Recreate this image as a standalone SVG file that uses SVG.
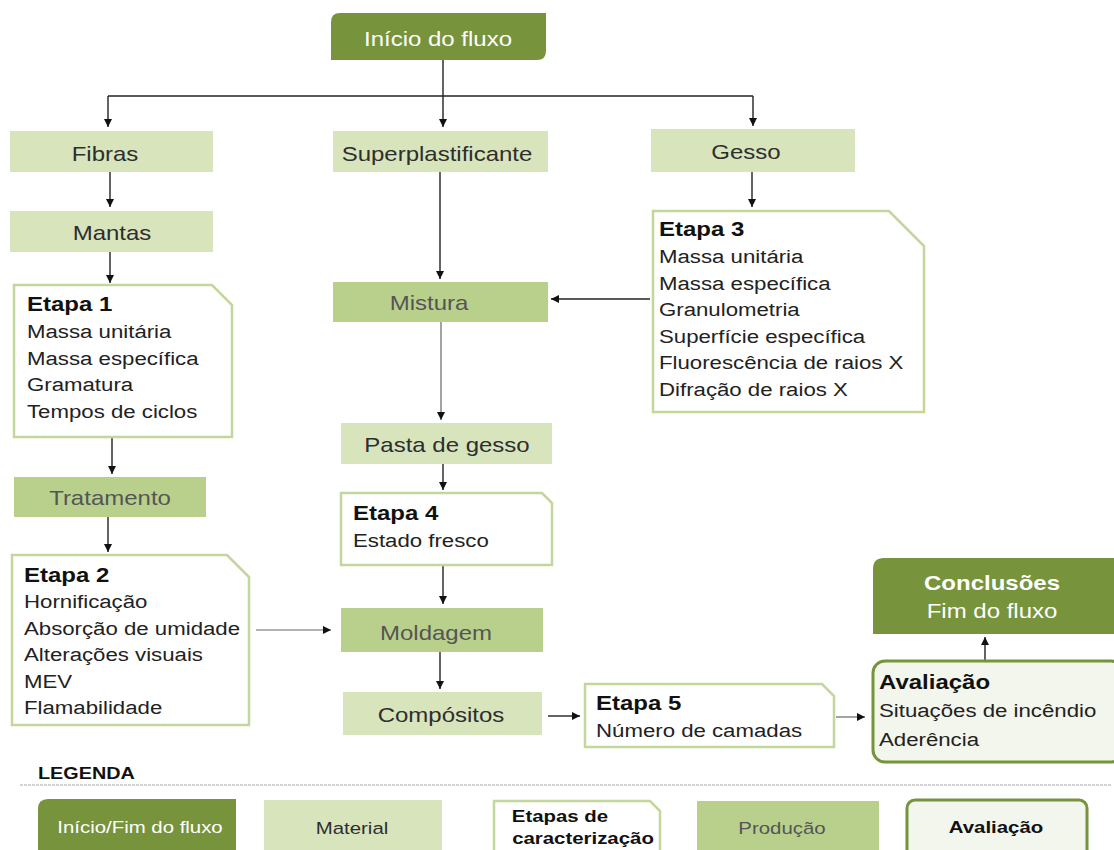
<svg xmlns="http://www.w3.org/2000/svg" width="1114" height="850" viewBox="0 0 1114 850">
  <defs>
    <marker id="arr" viewBox="0 0 10 10" refX="10" refY="5" markerWidth="8" markerHeight="8" markerUnits="userSpaceOnUse" orient="auto">
      <path d="M0,0 L10,5 L0,10 Z" fill="#111"/>
    </marker>
    <style>
      text { font-family: "Liberation Sans", Arial, sans-serif; }
      .term { fill: #77933c; }
      .mat { fill: #d8e4bc; }
      .prod { fill: #b9d08c; }
      .etapa { fill: #ffffff; stroke: #c3d69b; stroke-width: 2.5; }
      .aval { fill: #f3f6ec; stroke: #77933c; stroke-width: 3; }
      .lbl { font-size: 20px; fill: #2e2e2e; text-anchor: middle; }
      .plbl { font-size: 20px; fill: #555555; text-anchor: middle; }
      .wlbl { font-size: 20px; fill: #ffffff; text-anchor: middle; }
      .hd { font-size: 20.5px; font-weight: bold; fill: #111; }
      .bd { font-size: 19px; fill: #222; }
      .conn { fill: none; stroke: #222; stroke-width: 1.4; }
      .connl { fill: none; stroke: #666; stroke-width: 1.2; }
      .leg { font-size: 17px; text-anchor: middle; }
    </style>
  </defs>

  <rect width="1114" height="850" fill="#ffffff"/>

  <!-- connectors -->
  <g id="connectors">
    <path class="conn" d="M443,60 V96"/>
    <path class="conn" d="M108,96 H753"/>
    <path class="conn" d="M108,96 V127" marker-end="url(#arr)"/>
    <path class="conn" d="M443,96 V127" marker-end="url(#arr)"/>
    <path class="conn" d="M753,96 V126" marker-end="url(#arr)"/>
    <path class="conn" d="M110,172 V207" marker-end="url(#arr)"/>
    <path class="conn" d="M110,252 V283" marker-end="url(#arr)"/>
    <path class="conn" d="M112,437 V474" marker-end="url(#arr)"/>
    <path class="conn" d="M108,517 V552" marker-end="url(#arr)"/>
    <path class="conn" d="M440,172 V279" marker-end="url(#arr)"/>
    <path class="conn" d="M752,172 V207" marker-end="url(#arr)"/>
    <path class="conn" d="M650,299 H551" marker-end="url(#arr)"/>
    <path class="connl" d="M441,322 V420" marker-end="url(#arr)"/>
    <path class="conn" d="M443,464 V490" marker-end="url(#arr)"/>
    <path class="conn" d="M443,565 V604" marker-end="url(#arr)"/>
    <path class="connl" d="M256,630 H331" marker-end="url(#arr)"/>
    <path class="conn" d="M440,652 V689" marker-end="url(#arr)"/>
    <path class="conn" d="M548,716 H580" marker-end="url(#arr)"/>
    <path class="connl" d="M836,717 H865" marker-end="url(#arr)"/>
    <path class="conn" d="M985,660 V637" marker-end="url(#arr)"/>
  </g>

  <!-- start node -->
  <g id="inicio">
    <path class="term" d="M340,13 H546 V51 Q546,60 537,60 H331 V22 Q331,13 340,13 Z"/>
    <text class="wlbl" transform="translate(438,46) scale(1.2,1)">Início do fluxo</text>
  </g>

  <!-- materials -->
  <g id="fibras">
    <rect class="mat" x="10" y="131" width="203" height="41"/>
    <text class="lbl" transform="translate(105,161) scale(1.2,1)">Fibras</text>
  </g>
  <g id="superplastificante">
    <rect class="mat" x="333" y="131" width="215" height="41"/>
    <text class="lbl" transform="translate(437,161) scale(1.2,1)">Superplastificante</text>
  </g>
  <g id="gesso">
    <rect class="mat" x="651" y="129" width="204" height="43"/>
    <text class="lbl" transform="translate(746,159) scale(1.2,1)">Gesso</text>
  </g>
  <g id="mantas">
    <rect class="mat" x="10" y="211" width="203" height="41"/>
    <text class="lbl" transform="translate(112,240) scale(1.2,1)">Mantas</text>
  </g>
  <g id="pasta">
    <rect class="mat" x="341" y="423" width="211" height="41"/>
    <text class="lbl" transform="translate(447,452) scale(1.2,1)">Pasta de gesso</text>
  </g>
  <g id="compositos">
    <rect class="mat" x="343" y="692" width="199" height="43"/>
    <text class="lbl" transform="translate(441,722) scale(1.2,1)">Compósitos</text>
  </g>

  <!-- production -->
  <g id="tratamento">
    <rect class="prod" x="14" y="477" width="192" height="40"/>
    <text class="plbl" transform="translate(110,505) scale(1.2,1)">Tratamento</text>
  </g>
  <g id="mistura">
    <rect class="prod" x="333" y="282" width="215" height="40"/>
    <text class="plbl" transform="translate(429,310) scale(1.2,1)">Mistura</text>
  </g>
  <g id="moldagem">
    <rect class="prod" x="341" y="608" width="202" height="44"/>
    <text class="plbl" transform="translate(436,640) scale(1.2,1)">Moldagem</text>
  </g>

  <!-- characterization steps -->
  <g id="etapa1">
    <path class="etapa" d="M14,285 H212 L232,305 V437 H14 Z"/>
    <g transform="translate(27,0) scale(1.17,1)">
      <text class="hd" y="311">Etapa 1</text>
      <text class="bd" y="338">Massa unitária</text>
      <text class="bd" y="365">Massa específica</text>
      <text class="bd" y="391">Gramatura</text>
      <text class="bd" y="418">Tempos de ciclos</text>
    </g>
  </g>
  <g id="etapa2">
    <path class="etapa" d="M12,555 H227 L249,577 V725 H12 Z"/>
    <g transform="translate(24,0) scale(1.17,1)">
      <text class="hd" y="582">Etapa 2</text>
      <text class="bd" y="608">Hornificação</text>
      <text class="bd" y="635">Absorção de umidade</text>
      <text class="bd" y="661">Alterações visuais</text>
      <text class="bd" y="688">MEV</text>
      <text class="bd" y="714">Flamabilidade</text>
    </g>
  </g>
  <g id="etapa3">
    <path class="etapa" d="M653,211 H889 L924,246 V412 H653 Z"/>
    <g transform="translate(659,0) scale(1.17,1)">
      <text class="hd" y="236">Etapa 3</text>
      <text class="bd" y="263">Massa unitária</text>
      <text class="bd" y="290">Massa específica</text>
      <text class="bd" y="316">Granulometria</text>
      <text class="bd" y="343">Superfície específica</text>
      <text class="bd" y="369">Fluorescência de raios X</text>
      <text class="bd" y="396">Difração de raios X</text>
    </g>
  </g>
  <g id="etapa4">
    <path class="etapa" d="M341,493 H542 L552,503 V565 H341 Z"/>
    <g transform="translate(353,0) scale(1.17,1)">
      <text class="hd" y="520">Etapa 4</text>
      <text class="bd" y="547">Estado fresco</text>
    </g>
  </g>
  <g id="etapa5">
    <path class="etapa" d="M585,684 H822 L834,696 V747 H585 Z"/>
    <g transform="translate(596,0) scale(1.17,1)">
      <text class="hd" y="710">Etapa 5</text>
      <text class="bd" y="737">Número de camadas</text>
    </g>
  </g>

  <!-- evaluation and end -->
  <g id="avaliacao">
    <rect class="aval" x="873" y="661" width="250" height="101" rx="12"/>
    <g transform="translate(879,0) scale(1.17,1)">
      <text class="hd" y="689">Avaliação</text>
      <text class="bd" y="717">Situações de incêndio</text>
      <text class="bd" y="746">Aderência</text>
    </g>
  </g>
  <g id="conclusoes">
    <path class="term" d="M884,558 H1114 V634 H873 V569 Q873,558 884,558 Z"/>
    <text class="wlbl" transform="translate(992,590) scale(1.2,1)" font-weight="bold">Conclusões</text>
    <text class="wlbl" transform="translate(992,618) scale(1.2,1)">Fim do fluxo</text>
  </g>

  <!-- legend -->
  <g id="legenda">
    <text transform="translate(38,779) scale(1.2,1)" font-size="16.5" font-weight="bold" fill="#111">LEGENDA</text>
    <line x1="20" y1="785" x2="1112" y2="785" stroke="#aaaaaa" stroke-width="1.2" stroke-dasharray="3,1"/>
    <g id="leg-inicio">
      <path class="term" d="M48,799 H236 V860 H38 V809 Q38,799 48,799 Z"/>
      <text class="leg" transform="translate(140,833) scale(1.2,1)" fill="#ffffff">Início/Fim do fluxo</text>
    </g>
    <g id="leg-material">
      <rect class="mat" x="264" y="800" width="178" height="60"/>
      <text class="leg" transform="translate(352,834) scale(1.2,1)" fill="#2e2e2e">Material</text>
    </g>
    <g id="leg-etapas">
      <path class="etapa" d="M494,801 H650 L660,811 V860 H494 Z"/>
      <text class="leg" transform="translate(560,822) scale(1.2,1)" font-weight="bold" fill="#111">Etapas de</text>
      <text class="leg" transform="translate(583,844) scale(1.2,1)" font-weight="bold" fill="#111">caracterização</text>
    </g>
    <g id="leg-producao">
      <rect class="prod" x="697" y="801" width="182" height="59"/>
      <text class="leg" transform="translate(782,834) scale(1.2,1)" fill="#555555">Produção</text>
    </g>
    <g id="leg-avaliacao">
      <rect class="aval" x="907" y="800" width="180" height="70" rx="8"/>
      <text class="leg" transform="translate(996,833) scale(1.2,1)" font-weight="bold" fill="#111">Avaliação</text>
    </g>
  </g>
</svg>
